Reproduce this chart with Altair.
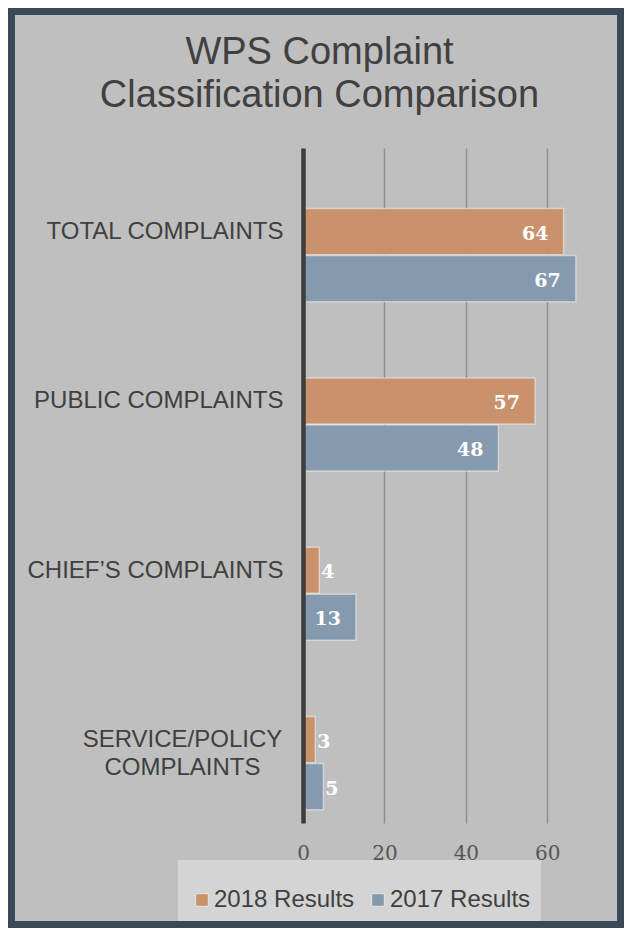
import altair as alt
import pandas as pd

categories = ["TOTAL COMPLAINTS", "PUBLIC COMPLAINTS", "CHIEF\u2019S COMPLAINTS", "SERVICE/POLICY COMPLAINTS"]
series = ["2018 Results", "2017 Results"]
values_2018 = [64, 57, 4, 3]
values_2017 = [67, 48, 13, 5]
colors = ["#c9926c", "#869aaf"]
x_ticks = [0, 20, 40, 60]
title_lines = ["WPS Complaint", "Classification Comparison"]

rows = []
for c, a, b in zip(categories, values_2018, values_2017):
    rows.append({"category": c, "series": series[0], "value": a})
    rows.append({"category": c, "series": series[1], "value": b})
df = pd.DataFrame(rows)

W, H = 285, 675
PL, PT, PR, PB = 295, 140, 36, 105

two_line = "datum.value == 'SERVICE/POLICY COMPLAINTS'"

y_enc = alt.Y(
    "category:N", sort=categories, title=None,
    scale=alt.Scale(paddingInner=0.45, paddingOuter=0.218, align=0.82),
    axis=alt.Axis(
        ticks=False, grid=False, domainColor="#3d3d3d", domainWidth=4.5,
        labelFont="Liberation Sans", labelFontSize=24, labelColor="#404040",
        labelOffset=-23, labelLineHeight=28, labelLimit=0,
        labelExpr=two_line + " ? ['SERVICE/POLICY', 'COMPLAINTS'] : datum.value",
        labelAlign={"condition": {"test": two_line, "value": "center"}, "value": "right"},
        labelPadding={"condition": {"test": two_line, "value": 121}, "value": 20},
        zindex=1,
    ),
)
x_enc = alt.X(
    "value:Q", title=None,
    scale=alt.Scale(domain=[0, 70], nice=False),
    axis=alt.Axis(
        values=x_ticks, grid=True, gridColor="#8e8e8e", gridWidth=1.5,
        ticks=False, domain=False, labelFont="DejaVu Serif", labelFontSize=20,
        labelColor="#555555", labelPadding=20, labelFlush=False, zindex=0,
    ),
)
yoff = alt.YOffset("series:N", sort=series, scale=alt.Scale(domain=series, paddingInner=0.02))

base = alt.Chart(df)

bars = base.mark_bar(stroke="#ffffff", strokeOpacity=0.45, strokeWidth=1.5).encode(
    x=x_enc, y=y_enc, yOffset=yoff,
    color=alt.Color(
        "series:N",
        scale=alt.Scale(domain=series, range=colors),
        legend=alt.Legend(
            orient="none", legendX=-113, legendY=740, direction="horizontal",
            title=None, symbolType="square", symbolSize=160,
            symbolStrokeColor="#e6e6e6", symbolStrokeWidth=1,
            labelFont="Liberation Sans", labelFontSize=24, labelColor="#404040",
            labelOffset=0, columnPadding=11, padding=0, labelLimit=0,
        ),
    ),
)

lab_big = base.transform_filter("datum.value >= 10").mark_text(
    align="right", baseline="middle", dx=-15, dy=2,
    font="DejaVu Serif", fontWeight="bold", fontSize=19, color="#ffffff",
).encode(x=x_enc, y=y_enc, yOffset=yoff, text="value:Q")

lab_small = base.transform_filter("datum.value < 10").mark_text(
    align="left", baseline="middle", dx=2, dy=2,
    font="DejaVu Serif", fontWeight="bold", fontSize=19, color="#ffffff",
).encode(x=x_enc, y=y_enc, yOffset=yoff, text="value:Q")

one = alt.Chart(pd.DataFrame({"k": [0]}))
legend_box = one.mark_rect(fill="#d4d4d4").encode(
    x=alt.value(-125), x2=alt.value(238), y=alt.value(712), y2=alt.value(H + PB)
)
frame = one.mark_rect(filled=False, stroke="#3a4959", strokeWidth=7).encode(
    x=alt.value(-PL + 3.5), x2=alt.value(W + PR - 3.5),
    y=alt.value(-PT + 3.5), y2=alt.value(H + PB - 3.5),
)

chart = alt.layer(bars, lab_big, lab_small, legend_box, frame).properties(
    width=W, height=H,
    autosize=alt.AutoSizeParams(type="none"),
    padding={"left": PL, "top": PT, "right": PR, "bottom": PB},
    title=alt.TitleParams(
        title_lines, font="Liberation Sans", fontSize=38, fontWeight="normal",
        color="#404040", anchor="middle", dx=-126, offset=-107, lineHeight=43,
    ),
).configure(background="#bfbfbf").configure_view(stroke=None)

chart.save("out.html", embed_options={"renderer": "svg", "actions": False})
